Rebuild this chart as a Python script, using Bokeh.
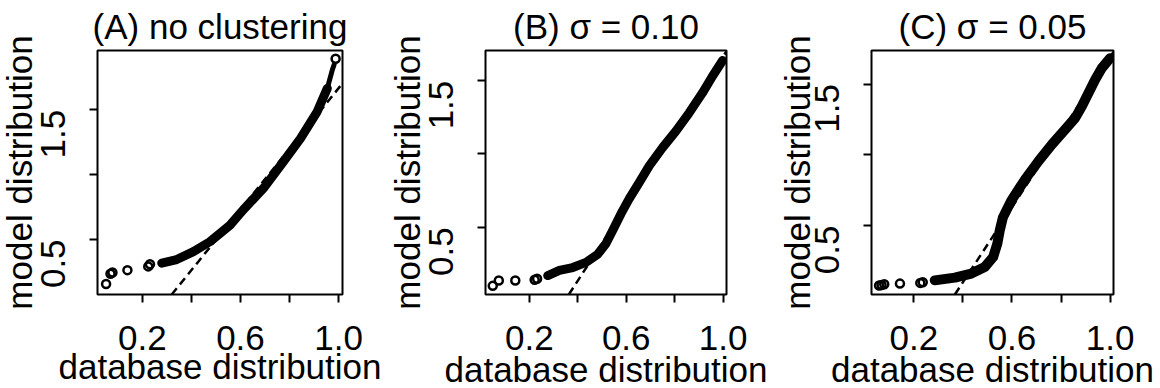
import math
from bokeh.plotting import figure
from bokeh.layouts import row
from bokeh.models import Slope, FixedTicker, Range1d, NumeralTickFormatter, Title
from bokeh.embed import file_html
from bokeh.resources import INLINE

# ---------------- data ----------------
titles = ["(A) no clustering", "(B) \u03c3 = 0.10", "(C) \u03c3 = 0.05"]
x_label = "database distribution"
y_label = "model distribution"
x_major_ticks = [0.2, 0.6, 1.0]
x_minor_ticks = [0.4, 0.8]
y_major_ticks = [0.5, 1.5]
y_minor_ticks = [1.0]

# panel A: no clustering
a_xrange = [0.017, 1.016]
a_yrange = [0.075, 1.958]
a_sparse_x = [0.052, 0.070, 0.078, 0.139, 0.224, 0.231, 0.988]
a_sparse_y = [0.156, 0.235, 0.245, 0.263, 0.292, 0.309, 1.895]
a_band_x = [0.279, 0.340, 0.408, 0.475, 0.557, 0.612, 0.696, 0.777, 0.845, 0.913, 0.954]
a_band_y = [0.317, 0.345, 0.406, 0.482, 0.609, 0.730, 0.900, 1.105, 1.280, 1.487, 1.666]
a_tip_x = [0.954, 0.974, 0.982]
a_tip_y = [1.666, 1.805, 1.850]
a_slope, a_intercept = 2.34, -0.673

# panel B: sigma = 0.10
b_xrange = [0.019, 1.014]
b_yrange = [0.041, 1.706]
b_sparse_x = [0.049, 0.074, 0.142, 0.222, 0.232]
b_sparse_y = [0.100, 0.136, 0.136, 0.142, 0.148]
b_band_x = [0.276, 0.324, 0.379, 0.434, 0.482, 0.516, 0.544, 0.578, 0.612, 0.654,
            0.695, 0.750, 0.805, 0.860, 0.915, 0.956, 0.998]
b_band_y = [0.170, 0.205, 0.225, 0.260, 0.315, 0.387, 0.478, 0.591, 0.693, 0.806,
            0.919, 1.043, 1.156, 1.281, 1.417, 1.530, 1.638]
b_tip_x = []
b_tip_y = []
b_slope, b_intercept = 2.55, -0.885

# panel C: sigma = 0.05
c_xrange = [0.027, 1.014]
c_yrange = [0.013, 1.737]
c_sparse_x = [0.058, 0.068, 0.079, 0.143, 0.226, 0.236]
c_sparse_y = [0.076, 0.080, 0.085, 0.090, 0.095, 0.099]
c_band_x = [0.285, 0.367, 0.434, 0.489, 0.523, 0.540, 0.550, 0.563, 0.597, 0.654,
            0.709, 0.763, 0.817, 0.858, 0.885, 0.912, 0.939, 0.966, 1.000]
c_band_y = [0.113, 0.132, 0.161, 0.207, 0.277, 0.371, 0.465, 0.558, 0.676, 0.828,
            0.957, 1.074, 1.180, 1.261, 1.343, 1.437, 1.531, 1.612, 1.683]
c_tip_x = []
c_tip_y = []
c_slope, c_intercept = 2.65, -0.96

FONT = "Liberation Sans"
FS = "35px"


def panel(title, xr, yr, sx, sy, bx, by, tx, ty, slope, intercept,
          width, left, right, top, bottom, band_w, ylab_so, xlab_so):
    p = figure(width=width, height=388, x_range=Range1d(*xr), y_range=Range1d(*yr),
               output_backend="svg", toolbar_location=None,
               min_border_left=left, min_border_right=right,
               min_border_top=top, min_border_bottom=bottom, title=title)
    p.title.text_font = FONT
    p.title.text_font_size = FS
    p.title.text_font_style = "normal"
    p.title.text_color = "black"
    p.title.align = "center"
    p.title.standoff = 9
    p.background_fill_color = "white"
    p.border_fill_color = "white"
    p.outline_line_color = "black"
    p.outline_line_width = 2
    p.outline_line_alpha = 1.0
    p.xgrid.visible = False
    p.ygrid.visible = False

    p.add_layout(Slope(gradient=slope, y_intercept=intercept, line_color="black",
                       line_width=2.5, line_dash="8 5", level="underlay"))

    p.line(bx, by, line_color="black", line_width=band_w,
           line_join="round", line_cap="round")
    if tx:
        p.line(tx, ty, line_color="black", line_width=5,
               line_join="round", line_cap="round")
    p.scatter(sx, sy, marker="circle", size=8, fill_color=None,
              line_color="black", line_width=2.5)

    for ax in (p.xaxis[0], p.yaxis[0]):
        ax.axis_line_color = None
        ax.major_tick_line_width = 2
        ax.minor_tick_line_width = 2
        ax.major_tick_in = 0
        ax.minor_tick_in = 0
        ax.major_tick_out = 8
        ax.minor_tick_out = 8
        ax.major_label_text_font = FONT
        ax.major_label_text_font_size = FS
        ax.major_label_text_color = "black"
        ax.formatter = NumeralTickFormatter(format="0.0")

    p.xaxis.ticker = FixedTicker(ticks=x_major_ticks, minor_ticks=x_minor_ticks)
    p.yaxis.ticker = FixedTicker(ticks=y_major_ticks, minor_ticks=y_minor_ticks)
    p.yaxis.major_label_orientation = math.pi / 2
    p.xaxis.major_label_standoff = 23
    p.yaxis.major_label_standoff = 36

    p.add_layout(Title(text=y_label, align="center", vertical_align="bottom",
                       standoff=ylab_so, text_font=FONT, text_font_size=FS,
                       text_font_style="normal", text_color="black"), "left")
    p.add_layout(Title(text=x_label, align="center", vertical_align="top",
                       standoff=xlab_so, text_font=FONT, text_font_size=FS,
                       text_font_style="normal", text_color="black"), "below")
    return p


pa = panel(titles[0], a_xrange, a_yrange, a_sparse_x, a_sparse_y, a_band_x, a_band_y,
           a_tip_x, a_tip_y, a_slope, a_intercept, 388, 97, 46, 50, 91, 9, -24, -11)
pb = panel(titles[1], b_xrange, b_yrange, b_sparse_x, b_sparse_y, b_band_x, b_band_y,
           b_tip_x, b_tip_y, b_slope, b_intercept, 386, 97, 48, 49, 94, 9, -24, -6)
pc = panel(titles[2], c_xrange, c_yrange, c_sparse_x, c_sparse_y, c_band_x, c_band_y,
           c_tip_x, c_tip_y, c_slope, c_intercept, 386, 97, 47, 49, 94, 10, -32, -6)

layout = row(pa, pb, pc, spacing=0)
open("out.html", "w").write(file_html(layout, INLINE))
